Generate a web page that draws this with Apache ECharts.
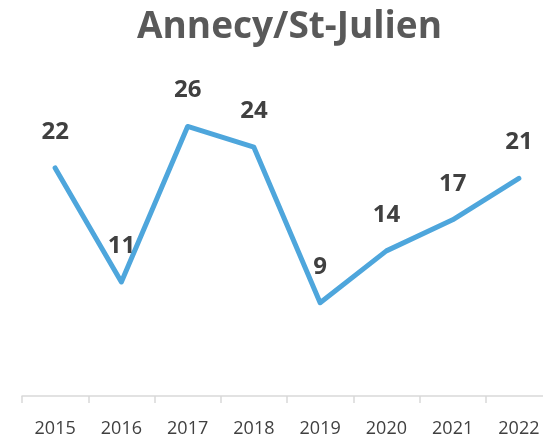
<!DOCTYPE html>
<html>
<head>
<meta charset="utf-8">
<script src="https://cdn.jsdelivr.net/npm/echarts@6/dist/echarts.min.js"></script>
<style>
  html, body { margin: 0; padding: 0; background: #fff; }
  #chart { width: 543px; height: 439px; }
</style>
</head>
<body>
<div id="chart"></div>
<script>
const years = ['2015', '2016', '2017', '2018', '2019', '2020', '2021', '2022']
const values = [22, 11, 26, 24, 9, 14, 17, 21]

const chart = echarts.init(document.getElementById('chart'))
chart.setOption({
  animation: false,
  title: {
    text: 'Annecy/St-Julien',
    left: 132,
    top: 4,
    textStyle: { color: '#595959', fontSize: 37, fontWeight: 'bold', fontFamily: 'Open Sans' }
  },
  grid: { left: 22, width: 530, top: 85, bottom: 43, outerBoundsMode: 'none' },
  xAxis: {
    type: 'category',
    data: years,
    boundaryGap: true,
    axisLine: { lineStyle: { color: '#d9d9d9', width: 1.5 } },
    axisTick: { show: true, length: 7, lineStyle: { color: '#d9d9d9', width: 1.5 } },
    axisLabel: { color: '#404040', fontSize: 18, fontFamily: 'Open Sans', margin: 24 }
  },
  yAxis: {
    type: 'value',
    min: 0,
    max: 30,
    show: false
  },
  series: [
    {
      type: 'line',
      data: values,
      symbol: 'circle',
      symbolSize: 2,
      itemStyle: { color: 'rgba(0,0,0,0)', borderWidth: 0 },
      lineStyle: { color: '#4ea6dc', width: 5, cap: 'round', join: 'round' },
      label: {
        show: true,
        position: 'top',
        distance: 23,
        color: '#404040',
        fontSize: 24,
        fontWeight: 'bold',
        fontFamily: 'Open Sans'
      }
    }
  ]
})
</script>
</body>
</html>
